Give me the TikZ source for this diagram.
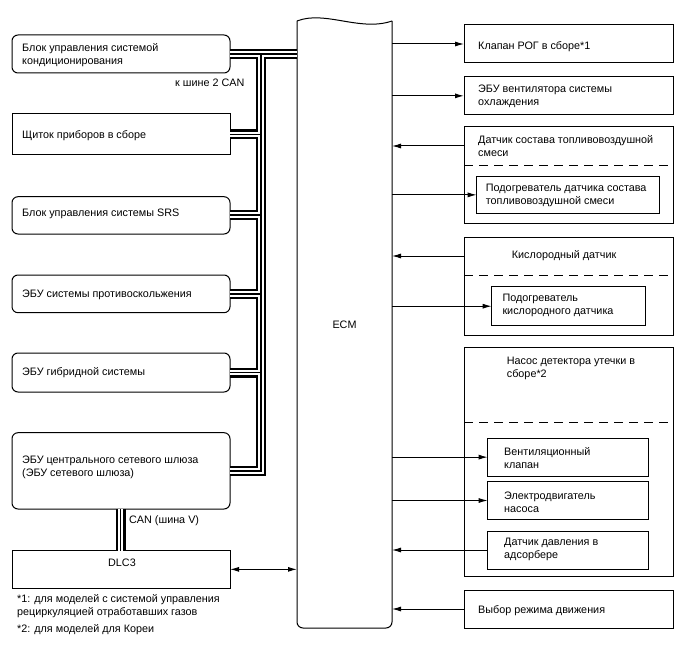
\documentclass[tikz,border=0pt]{standalone}
\usepackage{fontspec}
\setmainfont{Liberation Sans}
\usetikzlibrary{arrows.meta,calc}
\begin{document}
\begin{tikzpicture}[x=1pt,y=-1pt,
  lw/.style={line width=1pt},
  box/.style={draw,lw,inner sep=0pt,outer sep=0pt,anchor=north west},
  rbox/.style={box,rounded corners=6pt},
  txt/.style={font=\fontsize{10.8}{13}\selectfont,align=left,anchor=west,inner sep=0pt},
  arr/.style={lw,-{Latex[length=9pt,width=5pt]}},
  darr/.style={lw,{Latex[length=9pt,width=5pt]}-{Latex[length=9pt,width=5pt]}},
  sep/.style={lw,dash pattern=on 9pt off 6pt},
  busA/.style={line width=10pt,black,line join=miter},
  busB/.style={line width=5.8pt,white,line join=miter},
  busC/.style={line width=1.8pt,black,line join=miter}]
\useasboundingbox (0,0) rectangle (688,658);
% ECM
\node[inner sep=0pt,outer sep=0pt,anchor=north west,minimum width=95pt,minimum height=607pt,
      font=\fontsize{10.8}{13}\selectfont] (ecm) at (297,21) {ECM};
\draw[lw] (ecm.north west) .. controls +(28,-11) and +(-32,11) .. (ecm.north east);
\draw[lw,rounded corners=6pt] (ecm.north east) -- (ecm.south east) -- (ecm.south west) -- (ecm.north west);
% left boxes
\node[rbox,minimum width=218pt,minimum height=38pt] (ac) at (12,35) {};
\node[box,minimum width=218pt,minimum height=41pt] (ip) at (12,114) {};
\node[rbox,minimum width=218pt,minimum height=37.3pt] (srs) at (12,196.7) {};
\node[rbox,minimum width=218pt,minimum height=37.7pt] (abs) at (12,275) {};
\node[rbox,minimum width=218pt,minimum height=39pt] (hyb) at (12,353) {};
\node[rbox,minimum width=218pt,minimum height=76.3pt] (gw) at (12,432.7) {};
\node[box,minimum width=218pt,minimum height=37.3pt] (dlc) at (12,550.7) {};
\node[txt] (tac) at (22,55) {Блок управления системой\\кондиционирования};
\node[txt] (tip) at (22,136) {Щиток приборов в сборе};
\node[txt] (tsrs) at (22,214) {Блок управления системы SRS};
\node[txt] (tabs) at (22,295) {ЭБУ системы противоскольжения};
\node[txt] (thyb) at (22,373) {ЭБУ гибридной системы};
\node[txt] (tgw) at (22,467) {ЭБУ центрального сетевого шлюза\\(ЭБУ сетевого шлюза)};
\node[txt,anchor=center] (tdlc) at (122,563) {DLC3};
\node[txt] (tcan2) at (175,83) {к шине 2 CAN};
\node[txt] (tcanv) at (129,521) {CAN (шина V)};
\node[txt] (fn1) at (17,606) {*1: для моделей с системой управления\\рециркуляцией отработавших газов};
\node[txt] (fn2) at (17,630) {*2: для моделей для Кореи};
% buses
\coordinate (tk) at (261,0);
\coordinate (cv) at (120.5,0);
\foreach \s in {busA,busB,busC}{
  \draw[\s] (ac.east) -- (ac.east -| ecm.west);
  \draw[\s] (ac.east -| tk) -- (gw.east -| tk) -- (gw.east);
  \draw[\s] (ip.east) -- (ip.east -| tk);
  \draw[\s] (srs.east) -- (srs.east -| tk);
  \draw[\s] (abs.east) -- (abs.east -| tk);
  \draw[\s] (hyb.east) -- (hyb.east -| tk);
  \draw[\s] (gw.south -| cv) -- (dlc.north -| cv);
}
\draw[darr] (dlc.east) -- (dlc.east -| ecm.west);
% right boxes
\node[box,minimum width=209pt,minimum height=38pt] (r1) at (464,25) {};
\node[box,minimum width=209pt,minimum height=38.3pt] (r2) at (464,76.7) {};
\node[box,minimum width=209pt,minimum height=96pt] (r3) at (464,127) {};
\node[box,minimum width=182.3pt,minimum height=36.3pt] (r3h) at (476.7,176.7) {};
\node[box,minimum width=209pt,minimum height=97.7pt] (r4) at (464,237.3) {};
\node[box,minimum width=153.3pt,minimum height=39pt] (r4h) at (491.7,286.7) {};
\node[box,minimum width=209pt,minimum height=229.4pt] (r5) at (464,347.3) {};
\node[box,minimum width=160.3pt,minimum height=37.7pt] (r5v) at (487.7,438.3) {};
\node[box,minimum width=160.3pt,minimum height=37.6pt] (r5m) at (487.7,481.7) {};
\node[box,minimum width=160.3pt,minimum height=38pt] (r5p) at (487.7,531) {};
\node[box,minimum width=209pt,minimum height=38pt] (r6) at (464,590) {};
\draw[sep] ($(r3.north west)+(0,38)$) -- ($(r3.north east)+(0,38)$);
\draw[sep] ($(r4.north west)+(0,37.7)$) -- ($(r4.north east)+(0,37.7)$);
\draw[sep] ($(r5.north west)+(0,75.4)$) -- ($(r5.north east)+(0,75.4)$);
\node[txt] (tr1) at (478,46.7) {Клапан РОГ в сборе*1};
\node[txt] (tr2) at (478,96) {ЭБУ вентилятора системы\\охлаждения};
\node[txt] (tr3) at (478,146.5) {Датчик состава топливовоздушной\\смеси};
\node[txt] (tr3h) at (485.7,195) {Подогреватель датчика состава\\топливовоздушной смеси};
\node[txt] (tr4) at (511.7,256) {Кислородный датчик};
\node[txt] (tr4h) at (502.3,305.5) {Подогреватель\\кислородного датчика};
\node[txt] (tr5) at (506.7,368) {Насос детектора утечки в\\сборе*2};
\node[txt] (tr5v) at (504,458.5) {Вентиляционный\\клапан};
\node[txt] (tr5m) at (504,502) {Электродвигатель\\насоса};
\node[txt] (tr5p) at (504,549.5) {Датчик давления в\\адсорбере};
\node[txt] (tr6) at (478,611) {Выбор режима движения};
% arrows
\path ($(r3.north west)+(0,19)$) coordinate (r3p);
\path ($(r4.north west)+(0,18.7)$) coordinate (r4p);
\draw[arr] (ecm.east |- r1.west) -- (r1.west);
\draw[arr] (ecm.east |- r2.west) -- (r2.west);
\draw[arr] (r3p) -- (r3p -| ecm.east);
\draw[arr] (ecm.east |- r3h.west) -- (r3h.west);
\draw[arr] (r4p) -- (r4p -| ecm.east);
\draw[arr] (ecm.east |- r4h.west) -- (r4h.west);
\draw[arr] (ecm.east |- r5v.west) -- (r5v.west);
\draw[arr] (ecm.east |- r5m.west) -- (r5m.west);
\draw[arr] (r5p.west) -- (r5p.west -| ecm.east);
\draw[arr] (r6.west) -- (r6.west -| ecm.east);
\end{tikzpicture}
\end{document}
